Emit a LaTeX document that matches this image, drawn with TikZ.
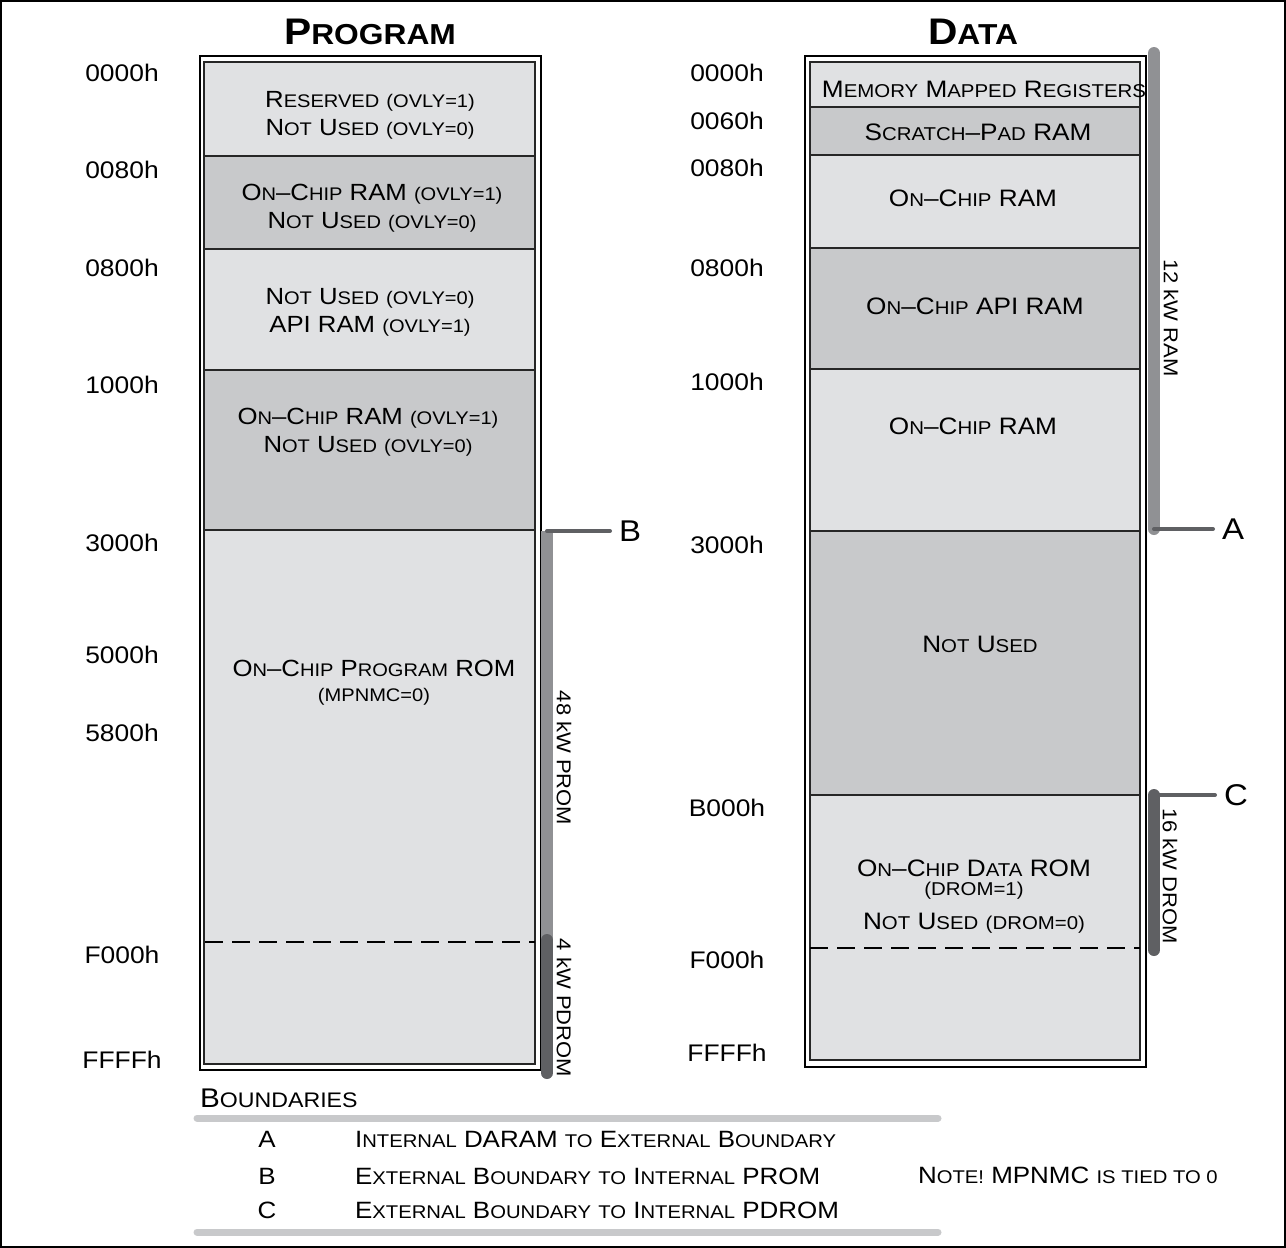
\documentclass[tikz,border=0pt]{standalone}
\usepackage{fontspec}
\setmainfont{Liberation Sans}[FakeStretch=1.1]
\usetikzlibrary{positioning, calc}
\definecolor{memlight}{HTML}{E0E1E3}
\definecolor{memdark}{HTML}{C8C9CB}
\definecolor{barlight}{HTML}{909194}
\definecolor{bardark}{HTML}{5F6063}
\makeatletter
\newcommand\sm[1]{{\fontsize{\fpeval{0.78*\f@size}}{\f@baselineskip}\selectfont #1}}
\makeatother
\begin{document}
\begin{tikzpicture}[x=0.5pt,y=-0.5pt,
    region/.style={draw=black!85, line width=0.8pt},
    outerbox/.style={draw=black, line width=1.3pt},
    addr/.style={font=\fontsize{12}{14}\selectfont},
    ptext/.style={align=center, font=\fontsize{11.7}{14}\selectfont},
    dtext/.style={align=center, font=\fontsize{11.9}{14}\selectfont},
    title/.style={font=\fontsize{18.5}{22}\selectfont\bfseries},
    bar/.style={line width=6pt, line cap=round},
    tick/.style={line width=2pt, draw=bardark, line cap=round},
    boundlbl/.style={font=\fontsize{15}{18}\selectfont},
    rotlbl/.style={rotate=-90, font=\fontsize{10}{12}\selectfont},
    dashline/.style={line width=1pt, dash pattern=on 9pt off 4.5pt},
    legend/.style={font=\fontsize{11.8}{14}\selectfont},
    rule/.style={line width=3.5pt, draw=memdark, line cap=round}]
\useasboundingbox (0,0) rectangle (1286,1248);
\draw[line width=1.4pt] (1,1) rectangle (1285,1247);

% titles
\node[title] (progtitle) at (370,32) {P\sm{ROGRAM}};
\node[title] (datatitle) at (973,32) {D\sm{ATA}};

% program memory map
\draw[outerbox] (200,56) rectangle (541,1070);
\foreach \ya/\yb/\c in {62/156/memlight, 156/249/memdark, 249/370/memlight,
    370/530/memdark, 530/1064/memlight}
  \filldraw[region, fill=\c] (204,\ya) rectangle (535,\yb);
\draw[dashline] (205,942) -- (535,942);

\node[ptext] (p1) at (370,115) {R\sm{ESERVED} \sm{(OVLY=1)}\\N\sm{OT} U\sm{SED} \sm{(OVLY=0)}};
\node[ptext] (p2) at (372,208) {O\sm{N}--C\sm{HIP} RAM \sm{(OVLY=1)}\\N\sm{OT} U\sm{SED} \sm{(OVLY=0)}};
\node[ptext] (p3) at (370,312) {N\sm{OT} U\sm{SED} \sm{(OVLY=0)}\\API RAM \sm{(OVLY=1)}};
\node[ptext] (p4) at (368,432) {O\sm{N}--C\sm{HIP} RAM \sm{(OVLY=1)}\\N\sm{OT} U\sm{SED} \sm{(OVLY=0)}};
\node[ptext] (p5) at (374,668) {O\sm{N}--C\sm{HIP} P\sm{ROGRAM} ROM};
\node[ptext] (p5b) at (374,697) {\sm{(MPNMC=0)}};

\foreach \y/\t [count=\i] in {73/0000h, 170/0080h, 268/0800h, 385/1000h, 543/3000h,
    655/5000h, 733/5800h, 955/F000h, 1060/FFFFh}
  \node[addr] (pa\i) at (122,\y) {\t};

% program boundary bars
\coordinate (bTop) at (547,531);
\coordinate (bMid) at (547,940);
\coordinate (bBot) at (547,1073);
\draw[bar, barlight, line cap=butt] (bTop) -- (bMid);
\draw[bar, bardark] (bMid) -- (bBot);
\coordinate (bEnd) at (610,531);
\draw[tick] (bTop) -- (bEnd);
\node[boundlbl, right=1pt of bEnd] (labB) {B};
\node[rotlbl] (prom) at (564,758) {48 kW PROM};
\node[rotlbl] (pdrom) at (564,1008) {4 kW PDROM};

% data memory map
\draw[outerbox] (805,56) rectangle (1146,1067);
\foreach \ya/\yb/\c in {62/107/memlight, 107/155/memdark, 155/248/memlight,
    248/369/memdark, 369/531/memlight, 531/795/memdark, 795/1060/memlight}
  \filldraw[region, fill=\c] (810,\ya) rectangle (1140,\yb);
\draw[dashline] (810,948) -- (1140,948);

\node[dtext] (d1) at (984,89) {M\sm{EMORY} M\sm{APPED} R\sm{EGISTERS}};
\node[dtext] (d2) at (978,132) {S\sm{CRATCH}--P\sm{AD} RAM};
\node[dtext] (d3) at (973,198) {O\sm{N}--C\sm{HIP} RAM};
\node[dtext] (d4) at (975,306) {O\sm{N}--C\sm{HIP} API RAM};
\node[dtext] (d5) at (973,426) {O\sm{N}--C\sm{HIP} RAM};
\node[dtext] (d6) at (980,644) {N\sm{OT} U\sm{SED}};
\node[dtext] (d7) at (974,868) {O\sm{N}--C\sm{HIP} D\sm{ATA} ROM};
\node[dtext] (d7b) at (974,891) {\sm{(DROM=1)}};
\node[dtext] (d7c) at (974,923) {N\sm{OT} U\sm{SED} \sm{(DROM=0)}};

\foreach \y/\t [count=\i] in {73/0000h, 121/0060h, 168/0080h, 268/0800h, 382/1000h,
    545/3000h, 808/B000h, 960/F000h, 1053/FFFFh}
  \node[addr] (da\i) at (727,\y) {\t};

% data boundary bars
\coordinate (aTop) at (1154,53);
\coordinate (aBot) at (1154,529);
\draw[bar, barlight] (aTop) -- (aBot);
\coordinate (aEnd) at (1213,529);
\draw[tick] (aBot) -- (aEnd);
\node[boundlbl, right=1pt of aEnd] (labA) {A};
\node[rotlbl] (ram) at (1171,318) {12 kW RAM};

\coordinate (cTop) at (1154,795);
\coordinate (cBot) at (1154,950);
\draw[bar, bardark] (cTop) -- (cBot);
\coordinate (cEnd) at (1215,795);
\draw[tick] (cTop) -- (cEnd);
\node[boundlbl, right=1pt of cEnd] (labC) {C};
\node[rotlbl] (drom) at (1170,876) {16 kW DROM};

% boundaries legend
\node[legend, anchor=west, font=\fontsize{13.5}{16}\selectfont] (bnd) at (193,1098) {B\sm{OUNDARIES}};
\draw[rule] (197,1118) -- (938,1118);
\draw[rule] (197,1232) -- (938,1232);
\foreach \y/\l/\t in {1139/A/{I\sm{NTERNAL} DARAM \sm{TO} E\sm{XTERNAL} B\sm{OUNDARY}},
    1176/B/{E\sm{XTERNAL} B\sm{OUNDARY} \sm{TO} I\sm{NTERNAL} PROM},
    1210/C/{E\sm{XTERNAL} B\sm{OUNDARY} \sm{TO} I\sm{NTERNAL} PDROM}} {
  \node[legend] (key\l) at (267,\y) {\l};
  \node[legend, anchor=west] (txt\l) at (348,\y) {\t};
}
\node[legend, anchor=west] (note) at (911,1175) {N\sm{OTE!} MPNMC \sm{IS TIED TO 0}};
\end{tikzpicture}
\end{document}
